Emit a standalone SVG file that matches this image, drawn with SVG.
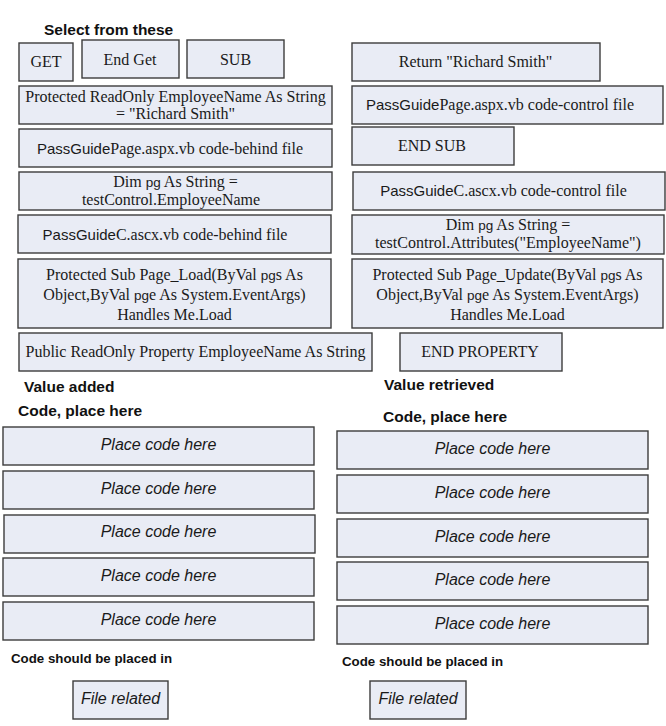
<svg xmlns="http://www.w3.org/2000/svg" width="666" height="726" viewBox="0 0 666 726">
<style>
.b{fill:#e9ecf5;stroke:#3c3c3c;stroke-width:1.4}
.s{font-family:"Liberation Serif","Times New Roman",serif;font-size:16px;fill:#1a1a1a;text-anchor:middle}
.a{font-family:"Liberation Sans",Arial,sans-serif;font-size:15px}
.pg{font-family:"Liberation Sans",Arial,sans-serif;font-size:13.5px}
.i{font-family:"Liberation Sans",Arial,sans-serif;font-style:italic;font-size:16px;fill:#1a1a1a;text-anchor:middle}
.h{font-family:"Liberation Sans",Arial,sans-serif;font-weight:bold;font-size:15.5px;fill:#111}
.h2{font-family:"Liberation Sans",Arial,sans-serif;font-weight:bold;font-size:13.3px;fill:#111}
</style>
<rect width="666" height="726" fill="#fff"/>
<g id="labels">
<text class="h" x="44" y="35">Select from these</text>
<text class="h" x="24" y="392">Value added</text>
<text class="h" x="18" y="416">Code, place here</text>
<text class="h" x="384" y="390">Value retrieved</text>
<text class="h" x="383" y="422">Code, place here</text>
<text class="h2" x="11" y="663">Code should be placed in</text>
<text class="h2" x="342" y="666">Code should be placed in</text>
</g>
<g id="n-get"><rect class="b" x="19" y="43" width="54" height="38"/><text class="s" x="46" y="67">GET</text></g>
<g id="n-endget"><rect class="b" x="82" y="40" width="97" height="38"/><text class="s" x="130" y="65">End Get</text></g>
<g id="n-sub"><rect class="b" x="187" y="40" width="97" height="38"/><text class="s" x="235.5" y="65">SUB</text></g>
<g id="n-return"><rect class="b" x="352" y="43" width="248" height="38"/><text class="s" x="475.5" y="67">Return "Richard Smith"</text></g>
<g id="n-protro"><rect class="b" x="19" y="86" width="313" height="38"/><text class="s" x="175.5" y="102">Protected ReadOnly EmployeeName As String</text><text class="s" x="175.5" y="119">= "Richard Smith"</text></g>
<g id="n-pagectl"><rect class="b" x="352" y="86" width="311" height="38"/><text class="s" x="500" y="110"><tspan class="a">PassGuide</tspan>Page.aspx.vb code-control file</text></g>
<g id="n-pagebehind"><rect class="b" x="19" y="129" width="313" height="38"/><text class="s" x="170" y="154"><tspan class="a">PassGuide</tspan>Page.aspx.vb code-behind file</text></g>
<g id="n-endsub"><rect class="b" x="352" y="127" width="162" height="38"/><text class="s" x="432" y="151">END SUB</text></g>
<g id="n-dimleft"><rect class="b" x="19" y="172" width="313" height="38"/><text class="s" x="175.5" y="187">Dim <tspan class="pg">pg</tspan> As String =</text><text class="s" x="171" y="205">testControl.EmployeeName</text></g>
<g id="n-ctlctl"><rect class="b" x="353" y="172" width="312" height="38"/><text class="s" x="503.5" y="196"><tspan class="a">PassGuide</tspan>C.ascx.vb code-control file</text></g>
<g id="n-ctlbehind"><rect class="b" x="18" y="215" width="313" height="38"/><text class="s" x="165" y="240"><tspan class="a">PassGuide</tspan>C.ascx.vb code-behind file</text></g>
<g id="n-dimright"><rect class="b" x="352" y="215" width="312" height="39"/><text class="s" x="508" y="230">Dim <tspan class="pg">pg</tspan> As String =</text><text class="s" x="508" y="248">testControl.Attributes("EmployeeName")</text></g>
<g id="n-pageload"><rect class="b" x="18" y="259" width="313" height="69"/><text class="s" x="174.5" y="280">Protected Sub Page_Load(ByVal <tspan class="pg">pg</tspan>s As</text><text class="s" x="174.5" y="300">Object,ByVal <tspan class="pg">pg</tspan>e As System.EventArgs)</text><text class="s" x="174.5" y="320">Handles Me.Load</text></g>
<g id="n-pageupdate"><rect class="b" x="352" y="259" width="311" height="69"/><text class="s" x="507.5" y="280">Protected Sub Page_Update(ByVal <tspan class="pg">pg</tspan>s As</text><text class="s" x="507.5" y="300">Object,ByVal <tspan class="pg">pg</tspan>e As System.EventArgs)</text><text class="s" x="507.5" y="320">Handles Me.Load</text></g>
<g id="n-publicro"><rect class="b" x="19" y="333" width="353" height="38"/><text class="s" x="195.5" y="357">Public ReadOnly Property EmployeeName As String</text></g>
<g id="n-endprop"><rect class="b" x="400" y="333" width="162" height="38"/><text class="s" x="480" y="357">END PROPERTY</text></g>
<g id="n-l1"><rect class="b" x="3" y="427" width="311" height="38"/><text class="i" x="158.5" y="450">Place code here</text></g>
<g id="n-l2"><rect class="b" x="3" y="471" width="311" height="38"/><text class="i" x="158.5" y="494">Place code here</text></g>
<g id="n-l3"><rect class="b" x="4" y="515" width="311" height="38"/><text class="i" x="158.5" y="537">Place code here</text></g>
<g id="n-l4"><rect class="b" x="3" y="558" width="311" height="38"/><text class="i" x="158.5" y="581">Place code here</text></g>
<g id="n-l5"><rect class="b" x="3" y="602" width="311" height="38"/><text class="i" x="158.5" y="625">Place code here</text></g>
<g id="n-r1"><rect class="b" x="337" y="431" width="311" height="38"/><text class="i" x="492.5" y="454">Place code here</text></g>
<g id="n-r2"><rect class="b" x="337" y="475" width="311" height="38"/><text class="i" x="492.5" y="498">Place code here</text></g>
<g id="n-r3"><rect class="b" x="337" y="519" width="311" height="38"/><text class="i" x="492.5" y="542">Place code here</text></g>
<g id="n-r4"><rect class="b" x="337" y="562" width="311" height="38"/><text class="i" x="492.5" y="585">Place code here</text></g>
<g id="n-r5"><rect class="b" x="337" y="606" width="311" height="38"/><text class="i" x="492.5" y="629">Place code here</text></g>
<g id="n-filel"><rect class="b" x="73" y="681" width="95" height="38"/><text class="i" x="120.5" y="704">File related</text></g>
<g id="n-filer"><rect class="b" x="370" y="681" width="96" height="38"/><text class="i" x="418" y="704">File related</text></g>
</svg>
